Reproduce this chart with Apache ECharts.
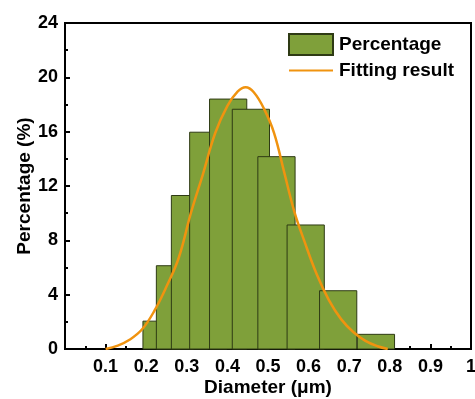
<!DOCTYPE html>
<html>
<head>
<meta charset="utf-8">
<script src="https://cdn.jsdelivr.net/npm/echarts@6/dist/echarts.min.js"></script>
<style>html,body{margin:0;padding:0;background:#fff}#c{width:475px;height:399px}</style>
</head>
<body>
<div id="c"></div>
<script>
// Histogram bins: left edge (µm) and percentage
const binStart = [0.192, 0.225, 0.262, 0.307, 0.356, 0.412, 0.475, 0.547, 0.627, 0.720];
const binValue = [2.05, 6.13, 11.3, 15.96, 18.4, 17.65, 14.16, 9.13, 4.29, 1.08];
const BIN_WIDTH = 0.0917;
// Fitting curve points
const fitX = [0.100, 0.130, 0.160, 0.190, 0.220, 0.250, 0.280, 0.310, 0.340, 0.370, 0.400, 0.425, 0.445, 0.465, 0.490, 0.515, 0.540, 0.565, 0.590, 0.620, 0.650, 0.680, 0.710, 0.740, 0.770, 0.795];
const fitY = [0.00, 0.25, 0.70, 1.45, 2.80, 4.60, 6.70, 10.00, 12.90, 15.90, 17.90, 18.95, 19.27, 18.90, 17.70, 15.90, 13.00, 10.10, 7.90, 5.50, 3.60, 2.20, 1.25, 0.60, 0.20, 0.00];
const seriesNames = ['Percentage', 'Fitting result'];
const xTitle = 'Diameter (μm)';
const yTitle = 'Percentage (%)';

const FONT = 'Liberation Sans, Arial, sans-serif';
const chart = echarts.init(document.getElementById('c'), null, {renderer: 'canvas'});
chart.setOption({
  animation: false,
  backgroundColor: '#fff',
  grid: {left: 65, right: 4, top: 23, bottom: 50, outerBoundsMode: 'none', containLabel: false,
    show: true, borderColor: '#000', borderWidth: 2, backgroundColor: 'transparent'},
  legend: {
    left: 288, top: 33, padding: 0, orient: 'vertical', itemWidth: 44, itemHeight: 21, itemGap: 5,
    textStyle: {fontFamily: FONT, fontWeight: 'bold', fontSize: 19, color: '#000', padding: [0,0,0,1]},
    data: [{name: seriesNames[0], icon: 'rect'}, {name: seriesNames[1], itemStyle: {opacity: 0}}]
  },
  xAxis: {
    type: 'value', min: 0, max: 1, interval: 0.1,
    name: xTitle, nameLocation: 'middle', nameGap: 29, nameMoveOverlap: false,
    nameTextStyle: {fontFamily: FONT, fontWeight: 'bold', fontSize: 19, color: '#000'},
    axisLine: {show: true, lineStyle: {color: '#000', width: 2}},
    axisTick: {show: true, inside: true, length: 5, lineStyle: {color: '#000', width: 2}},
    minorTick: {show: true, splitNumber: 2, length: 3, lineStyle: {color: '#000', width: 2}},
    splitLine: {show: false},
    axisLabel: {margin: 9, fontFamily: FONT, fontWeight: 'bold', fontSize: 18, color: '#000',
      formatter: v => v === 0 ? '' : String(parseFloat(v.toFixed(1)))}
  },
  yAxis: {
    type: 'value', min: 0, max: 24, interval: 4,
    name: yTitle, nameLocation: 'middle', nameGap: 31, nameMoveOverlap: false,
    nameTextStyle: {fontFamily: FONT, fontWeight: 'bold', fontSize: 19, color: '#000'},
    axisLine: {show: true, lineStyle: {color: '#000', width: 2}},
    axisTick: {show: true, inside: true, length: 5, lineStyle: {color: '#000', width: 2}},
    minorTick: {show: true, splitNumber: 2, length: 3, lineStyle: {color: '#000', width: 2}},
    splitLine: {show: false},
    axisLabel: {margin: 7, fontFamily: FONT, fontWeight: 'bold', fontSize: 18, color: '#000'}
  },
  series: [
    {
      name: seriesNames[0], type: 'custom',
      itemStyle: {color: '#7fa03a', borderColor: '#2e3a14', borderWidth: 1},
      encode: {x: 0, y: 1},
      data: binStart.map((s, i) => [s, binValue[i]]),
      renderItem: function (params, api) {
        const s = api.value(0), v = api.value(1);
        const p0 = api.coord([s, 0]);
        const p1 = api.coord([s + BIN_WIDTH, v]);
        return {
          type: 'rect',
          shape: {x: p0[0], y: p1[1], width: p1[0] - p0[0], height: p0[1] - p1[1]},
          style: {fill: '#7fa03a', stroke: '#2e3a14', lineWidth: 1}
        };
      }
    },
    {
      name: seriesNames[1], type: 'line', symbol: 'none', smooth: 0.4,
      lineStyle: {color: '#f0930f', width: 2.5}, itemStyle: {color: '#f0930f'},
      z: 5,
      data: fitX.map((x, i) => [x, fitY[i]])
    }
  ]
});
</script>
</body>
</html>
